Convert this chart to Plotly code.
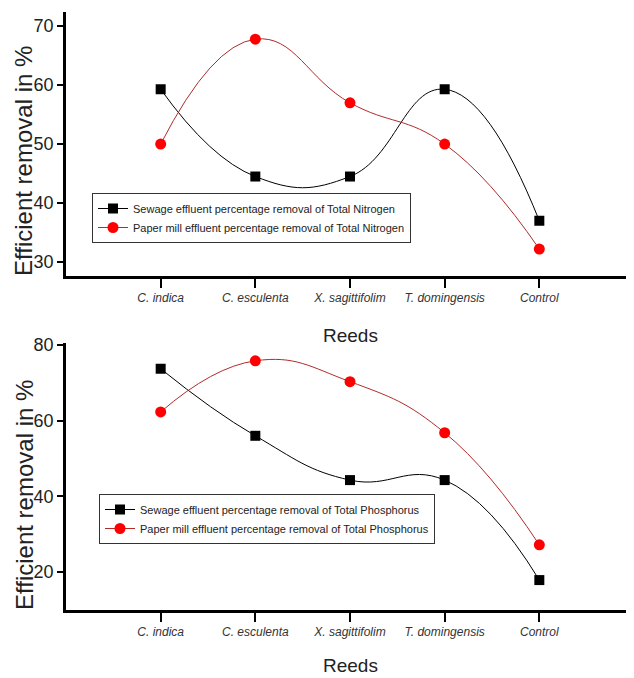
import plotly.graph_objects as go

reeds = ["C. indica", "C. esculenta", "X. sagittifolim", "T. domingensis", "Control"]
x_pos = [1, 2, 3, 4, 5]

n_sewage = [59.3, 44.5, 44.5, 59.3, 37.0]
n_paper = [50.0, 67.8, 57.0, 50.0, 32.2]
p_sewage = [73.7, 56.0, 44.3, 44.3, 17.9]
p_paper = [62.3, 75.8, 70.3, 56.8, 27.2]

n_ticks = [30, 40, 50, 60, 70]
p_ticks = [20, 40, 60, 80]

FONT = "Liberation Sans Narrow, Liberation Sans, Arial, sans-serif"
RED_LINE = "#b22a2a"

fig = go.Figure()

def add_pair(sew, pap, xa, ya, legend, nutrient):
    fig.add_trace(go.Scatter(
        x=x_pos, y=sew, xaxis=xa, yaxis=ya, legend=legend,
        mode="lines+markers",
        line=dict(color="black", width=1, shape="spline", smoothing=1.3),
        marker=dict(symbol="square", size=10, color="black"),
        name=f"Sewage effluent percentage removal of Total {nutrient}"))
    fig.add_trace(go.Scatter(
        x=x_pos, y=pap, xaxis=xa, yaxis=ya, legend=legend,
        mode="lines+markers",
        line=dict(color=RED_LINE, width=1, shape="spline", smoothing=1.3),
        marker=dict(symbol="circle", size=11, color="#ff0000"),
        name=f"Paper mill effluent percentage removal of Total {nutrient}"))

add_pair(n_sewage, n_paper, "x", "y", "legend", "Nitrogen")
add_pair(p_sewage, p_paper, "x2", "y2", "legend2", "Phosphorus")

# page body has an 8px margin; work in reference pixel coords minus offset
OFF = 8
W = 634 - OFF
H = 678 - OFF

def px(v):
    return (v - OFF) / W

def py(v):
    return 1 - (v - OFF) / H

xdom = [px(66), 1.0]
top_dom = [py(276), py(12)]
bot_dom = [py(610), py(343)]

xcommon = dict(
    range=[0, 6], tickmode="array", tickvals=x_pos, ticktext=reeds,
    showline=True, linecolor="black", linewidth=2.5, ticks="outside",
    ticklen=9, tickwidth=2, tickcolor="black", showgrid=False, zeroline=False,
    automargin=False,
    tickfont=dict(family=FONT, size=12, color="#333333", style="italic"),
)
ycommon = dict(
    showline=True, linecolor="black", linewidth=2.5, ticks="outside",
    ticklen=6, tickwidth=2, tickcolor="black", showgrid=False, zeroline=False,
    automargin=False,
    tickfont=dict(family=FONT, size=18, color="#222222"),
)

legend_font = dict(family=FONT, size=11, color="#222222")
fig.update_layout(
    width=W, height=H,
    margin=dict(l=0, r=0, t=0, b=0, autoexpand=False),
    plot_bgcolor="white", paper_bgcolor="white",
    xaxis=dict(domain=xdom, anchor="y", **xcommon),
    yaxis=dict(domain=top_dom, anchor="x", range=[27.63, 72.4],
               tickvals=n_ticks, **ycommon),
    xaxis2=dict(domain=xdom, anchor="y2", **xcommon),
    yaxis2=dict(domain=bot_dom, anchor="x2", range=[10, 80.5],
                tickvals=p_ticks, **ycommon),
    legend=dict(x=px(92), y=py(218), xanchor="left", yanchor="middle",
                bordercolor="#333333", borderwidth=1, bgcolor="white",
                font=legend_font, tracegroupgap=0, itemwidth=30),
    legend2=dict(x=px(99), y=py(519), xanchor="left", yanchor="middle",
                 bordercolor="#333333", borderwidth=1, bgcolor="white",
                 font=legend_font, tracegroupgap=0, itemwidth=30),
    showlegend=True,
)

title_font = dict(family=FONT, size=24, color="#222222")
for yc in [161, 495]:
    fig.add_annotation(text="Efficient removal in %", textangle=-90,
                       x=px(24), y=py(yc), xref="paper", yref="paper",
                       showarrow=False, font=title_font, borderpad=0,
                       xanchor="center", yanchor="middle")
for yc in [336, 665]:
    fig.add_annotation(text="Reeds", x=px(350), y=py(yc),
                       xref="paper", yref="paper", showarrow=False,
                       font=dict(family=FONT, size=19, color="#222222"),
                       xanchor="center", yanchor="middle")

fig.write_html("out.html")
